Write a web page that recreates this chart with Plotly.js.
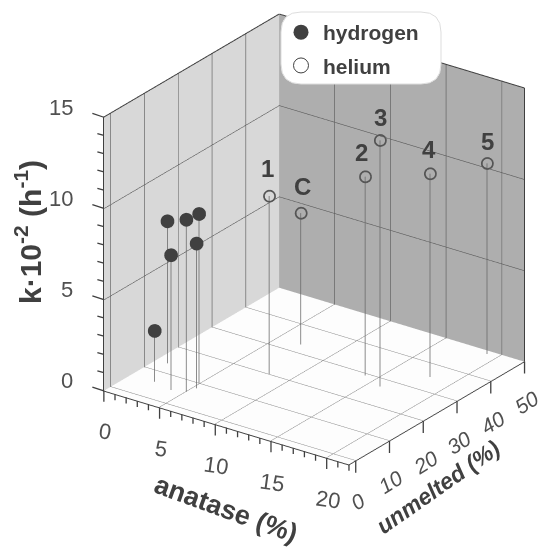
<!DOCTYPE html>
<html><head><meta charset="utf-8">
<script src="https://cdn.plot.ly/plotly-3.0.1.min.js"></script>
<style>html,body{margin:0;padding:0;background:#fff}#c{width:538px;height:548px}</style>
</head><body><div id="c"></div>
<script>
// ---- data ----
const hydrogenAnatase  = [2.1, 1.0, 3.9, 5.0, 5.25, 4.9];
const hydrogenUnmelted = [6.2, 13.6, 5.1, 6.0, 8.2, 10.1];
const hydrogenK        = [2.8, 7.8, 7.4, 9.45, 7.95, 9.3];
const heliumLabels   = ['1', 'C', '2', '3', '4', '5'];
const heliumAnatase  = [8.1, 7.0, 13.95, 15.95, 17.95, 19.0];
const heliumUnmelted = [20.3, 33.3, 29.4, 27.2, 35.4, 48.8];
const heliumK        = [9.75, 7.2, 10.9, 13.5, 11.15, 10.45];
const labelShiftX = [-2, 1, -4, 0, -1, 0];
const labelShiftY = [27, 26, 24, 23, 24, 22];
const anatTicks = [0, 5, 10, 15, 20];
const anatMinor = [1,2,3,4,6,7,8,9,11,12,13,14,16,17,18,19,21,22];
const unmeltTicks = [0, 10, 20, 30, 40, 50];
const kTicks = [0, 5, 10, 15];
const kMinor = [1,2,3,4,6,7,8,9,11,12,13,14];
const xR = [0, 22], yR = [-2, 50], zR = [0, 15];
const dark = '#404040';
const FONT = '"Liberation Sans", Arial, sans-serif';

function segs(list){ // list of [x0,y0,z0,x1,y1,z1]
  const x=[],y=[],z=[];
  list.forEach(s=>{x.push(s[0],s[3],null);y.push(s[1],s[4],null);z.push(s[2],s[5],null);});
  return {x,y,z};
}
function lineTrace(list,color,width){
  return Object.assign({type:'scatter3d',mode:'lines',showlegend:false,hoverinfo:'skip',
    line:{color:color,width:width}},segs(list));
}
// small offsets keep the grid just in front of the wall and floor planes
const lift = 0.03, xIn = xR[0] + 0.04, yIn = yR[1] - 0.1;
const wallGrid=[], floorGrid=[], frame=[];
anatTicks.slice(1).forEach(v=>{
  wallGrid.push([v,yIn,zR[0],v,yIn,zR[1]]);
  floorGrid.push([v,yR[0],lift,v,yR[1],lift]);
});
unmeltTicks.slice(0,5).forEach(v=>{
  wallGrid.push([xIn,v,zR[0],xIn,v,zR[1]]);
  floorGrid.push([xR[0],v,lift,xR[1],v,lift]);
});
kTicks.slice(1,3).forEach(v=>{
  wallGrid.push([xIn,yR[0],v,xIn,yR[1],v]);
  wallGrid.push([xR[0],yIn,v,xR[1],yIn,v]);
});
frame.push([xR[0],yR[0],zR[0],xR[0],yR[0],zR[1]]);
frame.push([xR[0],yR[0],zR[1],xR[0],yR[1],zR[1]]);
frame.push([xR[0],yR[1],zR[1],xR[1],yR[1],zR[1]]);
frame.push([xR[1],yR[1],zR[0],xR[1],yR[1],zR[1]]);

const dropsH = hydrogenAnatase.map((a,i)=>[a,hydrogenUnmelted[i],0,a,hydrogenUnmelted[i],hydrogenK[i]]);
const dropsHe = heliumAnatase.map((a,i)=>[a,heliumUnmelted[i],0,a,heliumUnmelted[i],heliumK[i]]);

const traces=[
  lineTrace(floorGrid,'#8c8c8c',1),
  lineTrace(wallGrid,'#5a5a5a',1.2),
  lineTrace(frame,'#404040',2),
  lineTrace(dropsH.concat(dropsHe),'#666666',1.5),
  {type:'scatter3d',mode:'markers',name:'hydrogen',showlegend:false,x:hydrogenAnatase,y:hydrogenUnmelted,z:hydrogenK,
   hoverinfo:'skip',marker:{size:8,color:dark,symbol:'circle',line:{width:0}}},
  {type:'scatter3d',mode:'markers',name:'helium',showlegend:false,x:heliumAnatase,y:heliumUnmelted,z:heliumK,
   hoverinfo:'skip',marker:{size:7,color:'#555555',symbol:'circle-open',line:{width:1,color:'#555555'}}},
  // legend entries, larger than the 3D markers
  {type:'scatter3d',mode:'markers',name:'hydrogen',legendgroup:'a',x:[null],y:[null],z:[null],
   hoverinfo:'skip',marker:{size:15,color:dark,symbol:'circle',line:{width:0}}},
  {type:'scatter3d',mode:'markers',name:'helium',legendgroup:'b',x:[null],y:[null],z:[null],
   hoverinfo:'skip',marker:{size:15,color:'#ffffff',symbol:'circle',line:{width:1,color:dark}}}
];

const anns=[];
function tick(x,y,z,ax,ay){anns.push({x,y,z,text:' ',font:{size:1},borderpad:0,showarrow:true,arrowhead:0,arrowwidth:1.3,arrowcolor:dark,ax,ay,standoff:0,startstandoff:0});}
function lab(x,y,z,text,xs,ys,angle,opts){anns.push(Object.assign({x,y,z,text,showarrow:false,xshift:xs,yshift:ys,textangle:angle,
   font:{family:FONT,size:22,color:'#505050'}},opts||{}));}
anatTicks.forEach(v=>{tick(v,yR[0],0,0,12);lab(v,yR[0],0,String(v),1,-41,8);});
anatMinor.forEach(v=>tick(v,yR[0],0,0,7));
unmeltTicks.forEach(v=>{tick(xR[1],v,0,0,13);lab(xR[1],v,0,String(v),2,-41,-32,{font:{family:FONT,size:21,color:'#505050',style:'italic'}});});
kTicks.forEach(v=>{tick(0,yR[0],v,-12,-4);lab(0,yR[0],v,String(v),-29,10,0,{xanchor:'right'});});
kMinor.forEach(v=>tick(0,yR[0],v,-7,-2));
heliumLabels.forEach((t,i)=>lab(heliumAnatase[i],heliumUnmelted[i],heliumK[i],t,labelShiftX[i],labelShiftY[i],0,
   {font:{family:FONT,size:24,color:dark,weight:'bold'}}));

const axisOpts=(range,bg)=>({range,autorange:false,showgrid:false,zeroline:false,showline:true,linecolor:dark,linewidth:2,showticklabels:false,ticks:'',
  title:{text:''},showspikes:false,showbackground:true,backgroundcolor:bg});
const W=538,H=548;
const boxPath=(x0,y0,x1,y1,r)=>{const X=v=>v/W,Y=v=>1-v/H;
  return `M ${X(x0+r)} ${Y(y0)} L ${X(x1-r)} ${Y(y0)} Q ${X(x1)} ${Y(y0)} ${X(x1)} ${Y(y0+r)} L ${X(x1)} ${Y(y1-r)} Q ${X(x1)} ${Y(y1)} ${X(x1-r)} ${Y(y1)} L ${X(x0+r)} ${Y(y1)} Q ${X(x0)} ${Y(y1)} ${X(x0)} ${Y(y1-r)} L ${X(x0)} ${Y(y0+r)} Q ${X(x0)} ${Y(y0)} ${X(x0+r)} ${Y(y0)} Z`;};
const titleAnn=(x,y,text,angle,font)=>({xref:'paper',yref:'paper',x:x/W,y:1-y/H,xanchor:'center',yanchor:'middle',showarrow:false,text,textangle:angle,font:Object.assign({family:FONT,color:dark,weight:'bold'},font)});
const layout={
  width:W,height:H,margin:{l:0,r:0,t:0,b:0},paper_bgcolor:'#fff',
  font:{family:FONT,color:dark},
  scene:{
    domain:{x:[90.4/W,1],y:[1-478.8/H,1]},
    aspectmode:'manual',aspectratio:{x:1.26,y:1.26,z:1.26},
    camera:{projection:{type:'orthographic'},up:{x:0,y:0,z:1},center:{x:0,y:0,z:0},eye:{x:0.838,y:-1.17,z:0.668}},
    xaxis:axisOpts(xR,'#d8d8d8'),yaxis:axisOpts(yR,'#aeaeae'),zaxis:axisOpts(zR,'#fdfdfd'),
    annotations:anns
  },
  shapes:[{type:'path',xref:'paper',yref:'paper',path:boxPath(281,12,441,84,20),fillcolor:'#ffffff',line:{color:'#dddddd',width:1},layer:'above'}],
  showlegend:true,
  legend:{x:279/W,y:1-12/H,xanchor:'left',yanchor:'top',bgcolor:'rgba(0,0,0,0)',borderwidth:0,tracegroupgap:3,traceorder:'grouped',itemwidth:34,
    font:{family:FONT,size:21,color:dark,weight:'bold'}},
  annotations:[
    titleAnn(226,509,'anatase (%)',20,{size:27}),
    titleAnn(438,487,'unmelted (%)',-35,{size:23,style:'italic'}),
    titleAnn(28,232,'k·10<sup>-2</sup> (h<sup>-1</sup>)',-90,{size:30})
  ]
};
Plotly.newPlot('c',traces,layout,{displayModeBar:false});
</script></body></html>
